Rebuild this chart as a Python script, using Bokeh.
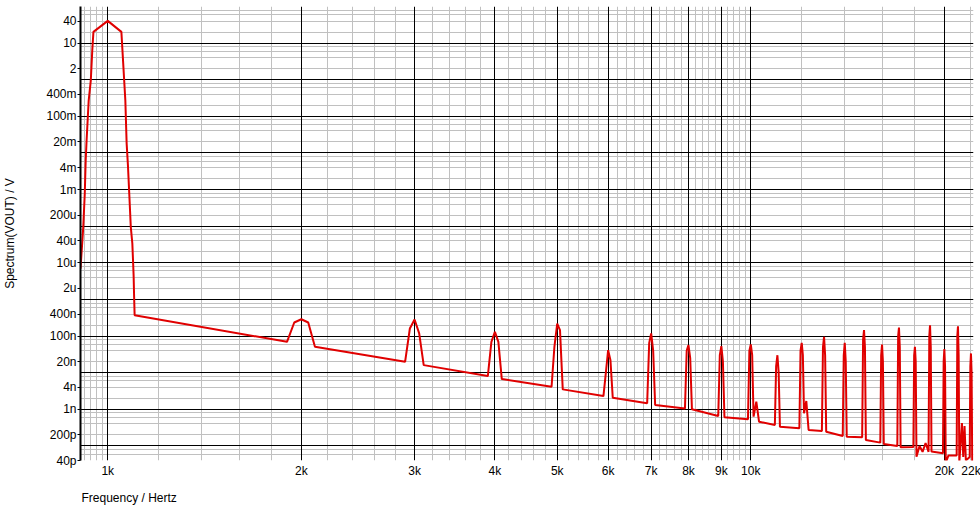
from bokeh.plotting import figure
from bokeh.models import FixedTicker, Grid, Range1d, CustomJSTickFormatter, Title
from bokeh.embed import file_html
from bokeh.resources import INLINE

# ---- data (frequency in Hz, spectrum in V) ----
freq_hz = [
    907, 916, 921, 924, 927, 934, 941, 946, 950, 1000, 1050,
    1060, 1065, 1070, 1075, 1080, 1086, 1092, 1097, 1099, 1101,
    1900, 1950, 2000, 2050, 2100,
    2900, 2950, 3000, 3050, 3100,
    3900, 3950, 4000, 4050, 4100,
    4900, 4950, 5000, 5050, 5100,
    5900, 5950, 6000, 6050, 6100,
    6900, 6950, 7000, 7050, 7100,
    7900, 7950, 8000, 8050, 8100,
    8900, 8950, 9000, 9050, 9100,
    9900, 9950, 10000, 10050, 10100, 10200, 10300,
    10900, 10950, 11000, 11050, 11100,
    11900, 11950, 12000, 12050, 12100, 12200, 12300,
    12900, 12950, 13000, 13050, 13100,
    13900, 13950, 14000, 14050, 14100,
    14900, 14950, 15000, 15050, 15100,
    15900, 15950, 16000, 16050, 16100,
    16900, 16950, 17000, 17050, 17100,
    17900, 17950, 18000, 18050, 18100, 18300, 18500, 18700, 18900,
    18950, 19000, 19050, 19100,
    19900, 19950, 20000, 20050, 20100, 20300, 20900,
    20950, 21000, 21050, 21100, 21300, 21400, 21500, 21600, 21900,
    21950, 22000, 22050, 22100,
]
spectrum_v = [
    6.95e-6, 9.45e-5, 7.8e-4, 6.2e-3, 2.2e-2, 0.27, 0.94, 6.2, 20.3, 40.5, 20.3,
    1.13, 0.268, 0.018, 4.5e-3, 7.8e-4, 9.45e-5, 3.4e-5, 4.6e-6, 1.17e-6, 3.7e-7,
    6.95e-8, 2.35e-7, 2.88e-7, 2.35e-7, 5.1e-8,
    1.98e-8, 1.61e-7, 2.83e-7, 1.18e-7, 1.61e-8,
    8.1e-9, 6.95e-8, 1.3e-7, 6.95e-8, 6.7e-9,
    4.13e-9, 5.1e-8, 2.2e-7, 1.45e-7, 3.5e-9,
    2.3e-9, 9.6e-9, 4.13e-8, 2.2e-8, 2.07e-9,
    1.46e-9, 6.4e-8, 1.18e-7, 4.0e-8, 1.31e-9,
    1.06e-9, 4.0e-8, 5.65e-8, 2.5e-8, 1.0e-9,
    6.56e-10, 3.0e-8, 5.3e-8, 2.0e-8, 6.05e-10,
    5.34e-10, 4.0e-8, 5.9e-8, 3.0e-8, 6.3e-10, 1.61e-9, 4.6e-10,
    3.73e-10, 1.5e-8, 3.0e-8, 1.0e-8, 3.36e-10,
    3.03e-10, 4.0e-8, 6.5e-8, 3.0e-8, 7.8e-10, 1.68e-9, 2.73e-10,
    2.56e-10, 5.0e-8, 9.5e-8, 3.0e-8, 2.45e-10,
    1.87e-10, 3.0e-8, 6.5e-8, 2.0e-8, 1.79e-10,
    1.73e-10, 8.0e-8, 1.45e-7, 5.0e-8, 1.46e-10,
    1.23e-10, 3.0e-8, 5.9e-8, 2.0e-8, 1.13e-10,
    1.0e-10, 1.0e-7, 1.71e-7, 5.0e-8, 9.2e-11,
    9.4e-11, 3.0e-8, 5.1e-8, 2.0e-8, 5.1e-11, 1.0e-10, 6.9e-11, 1.2e-10, 6.9e-11,
    1.0e-7, 1.98e-7, 5.0e-8, 7.0e-11,
    6.3e-11, 2.0e-8, 4.4e-8, 1.5e-8, 3.5e-11, 5.5e-11, 5.5e-11,
    1.0e-7, 1.86e-7, 3.0e-8, 3.5e-11, 4.2e-10, 5.0e-11, 3.5e-10, 4.0e-11, 5.0e-11,
    1.5e-8, 3.36e-8, 1.0e-8, 3.0e-11,
]

# axis limits and ticks
x_limits = [907, 22200]
y_limits = [4e-11, 100]
x_tick_values = [1000, 2000, 3000, 4000, 5000, 6000, 7000, 8000, 9000, 10000, 20000, 22000]
x_major_grid = [1000, 2000, 3000, 4000, 5000, 6000, 7000, 8000, 9000, 10000, 20000]
x_minor_grid = [920, 940, 960, 980] + \
    [f for f in range(1200, 10000, 200) if f % 1000 != 0] + \
    [12000, 14000, 16000, 18000, 22000]
y_tick_values = [40, 10, 2, 0.4, 0.1, 0.02, 0.004, 0.001, 2e-4, 4e-5, 1e-5,
                 2e-6, 4e-7, 1e-7, 2e-8, 4e-9, 1e-9, 2e-10, 4e-11]
y_major_grid = [100, 10, 1, 0.1, 0.01, 1e-3, 1e-4, 1e-5, 1e-6, 1e-7, 1e-8,
                1e-9, 1e-10]
y_minor_grid = [m * d for d in [1e-11, 1e-10, 1e-9, 1e-8, 1e-7, 1e-6, 1e-5,
                                1e-4, 1e-3, 1e-2, 1e-1, 1, 10]
                for m in (2, 4, 6, 8)]

FONT = "Liberation Sans"

p = figure(frame_width=893, frame_height=454, x_axis_type="log", y_axis_type="log",
           x_range=Range1d(*x_limits), y_range=Range1d(*y_limits),
           output_backend="svg", toolbar_location=None,
           min_border_left=79, min_border_right=8, min_border_top=6,
           min_border_bottom=49)
p.outline_line_color = None
p.background_fill_color = "white"
p.border_fill_color = "white"
p.xgrid.visible = False
p.ygrid.visible = False

# grids: grey minor first, then black major
for dim, ticks in ((0, x_minor_grid), (1, y_minor_grid)):
    p.add_layout(Grid(dimension=dim, ticker=FixedTicker(ticks=ticks),
                      grid_line_color="#c0c0c0", grid_line_width=1))
for dim, ticks in ((0, x_major_grid), (1, y_major_grid)):
    p.add_layout(Grid(dimension=dim, ticker=FixedTicker(ticks=ticks),
                      grid_line_color="black", grid_line_width=1))

si_fmt = CustomJSTickFormatter(code="""
const units = [[1e-12,'p'],[1e-9,'n'],[1e-6,'u'],[1e-3,'m'],[1,''],[1e3,'k']];
let s = '' + tick;
const a = Math.abs(tick);
for (const [m, u] of units) {
  if (a >= m * 0.999) { s = (Math.round(tick / m * 1000) / 1000) + u; }
}
return s;
""")

xa = p.xaxis[0]
xa.ticker = FixedTicker(ticks=x_tick_values)
xa.formatter = si_fmt
xa.axis_line_color = None
xa.major_tick_out = 0
xa.major_tick_in = 0
xa.minor_tick_out = 0
xa.minor_tick_in = 0
xa.major_label_standoff = 3
xa.major_label_text_font = FONT
xa.major_label_text_font_size = "12px"
xa.major_label_text_color = "black"

ya = p.yaxis[0]
ya.ticker = FixedTicker(ticks=y_tick_values)
ya.formatter = si_fmt
ya.axis_line_color = "black"
ya.axis_line_width = 2
ya.major_tick_out = 3
ya.major_tick_in = 0
ya.major_tick_line_color = "black"
ya.minor_tick_out = 0
ya.minor_tick_in = 0
ya.major_label_standoff = 1
ya.major_label_text_font = FONT
ya.major_label_text_font_size = "12px"
ya.major_label_text_color = "black"
ya.axis_label = "Spectrum(VOUT) / V"
ya.axis_label_text_font = FONT
ya.axis_label_text_font_size = "12px"
ya.axis_label_text_font_style = "normal"
ya.axis_label_text_color = "black"
ya.axis_label_standoff = 26

xt = Title(text="Frequency / Hertz", align="left", text_font=FONT,
           text_font_size="12px", text_font_style="normal",
           text_color="black", standoff=16, offset=1)
p.add_layout(xt, "below")

p.line(freq_hz, spectrum_v, line_color="#e00000", line_width=2)

open("out.html", "w").write(file_html(p, INLINE))
